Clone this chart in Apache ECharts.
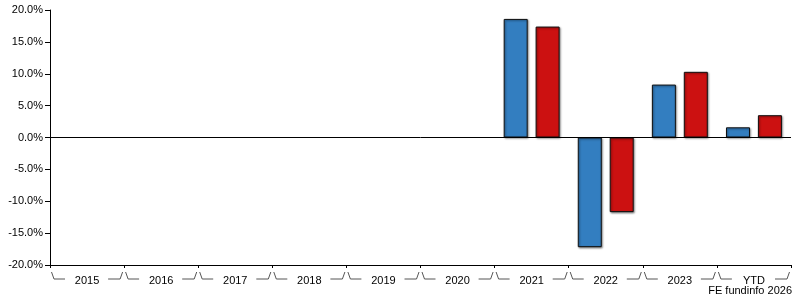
<!DOCTYPE html>
<html>
<head>
<meta charset="utf-8">
<script src="https://cdn.jsdelivr.net/npm/echarts@6/dist/echarts.min.js"></script>
<style>html,body{margin:0;padding:0;background:#fff}#c{width:795px;height:300px}</style>
</head>
<body>
<div id="c"></div>
<script>
var categories = ['2015','2016','2017','2018','2019','2020','2021','2022','2023','YTD'];
var fundValues = [null,null,null,null,null,null,18.6,-17.2,8.3,1.6];
var sectorValues = [null,null,null,null,null,null,17.4,-11.7,10.3,3.5];
var yTicks = {min:-20, max:20, interval:5};
var footer = 'FE fundinfo 2026';

var FONT = '"Liberation Sans", Arial, sans-serif';
var chart = echarts.init(document.getElementById('c'), null, {renderer:'canvas'});

var barStyle = function(color){
  return {color: color, borderColor: '#111', borderWidth: 1,
    shadowColor: 'rgba(0,0,0,0.45)', shadowBlur: 2, shadowOffsetX: 1, shadowOffsetY: 1};
};

chart.setOption({
  animation: false,
  grid: {left: 50, right: 4, top: 10, bottom: 35},
  xAxis: {
    type: 'category', data: categories,
    axisLine: {onZero: false, lineStyle: {color: '#000', width: 1}},
    axisTick: {show: true, length: 3, lineStyle: {color: '#000'}},
    axisLabel: {color: '#000', fontSize: 11, fontFamily: FONT, margin: 10},
    splitLine: {show: false}
  },
  yAxis: {
    type: 'value', min: yTicks.min, max: yTicks.max, interval: yTicks.interval,
    axisLine: {show: true, lineStyle: {color: '#000'}},
    axisTick: {show: true, length: 5, lineStyle: {color: '#000'}},
    axisLabel: {color: '#000', fontSize: 11, fontFamily: FONT, margin: 7,
      formatter: function(v){ return v.toFixed(1) + '%'; }},
    splitLine: {show: false}
  },
  series: [
    {type: 'bar', data: fundValues, barWidth: 24, barGap: '33%', itemStyle: barStyle('#337EC0'),
      markLine: {silent: true, symbol: 'none', label: {show: false},
        lineStyle: {color: '#000', width: 1, type: 'solid'}, data: [{yAxis: 0}]}},
    {type: 'bar', data: sectorValues, barWidth: 24, itemStyle: barStyle('#CC1111')},
    {type: 'custom', clip: false, silent: true,
      data: categories.map(function(c, i){ return [i]; }),
      encode: {x: 0},
      renderItem: function(params, api){
        var idx = api.value(0);
        var p = api.coord([idx, yTicks.min]);
        var w = api.size([1, 0])[0];
        var bL = p[0] - w/2, bR = p[0] + w/2, y = p[1];
        var ls = {stroke: '#555', lineWidth: 1, fill: null};
        return {type: 'group', children: [
          {type: 'polyline', shape: {points: [[bL+1.5, y+7], [bL+4, y+14], [bL+15, y+14]]}, style: ls},
          {type: 'polyline', shape: {points: [[bR-16, y+14], [bR-4, y+14], [bR-1.5, y+7]]}, style: ls}
        ]};
      }
    }
  ],
  graphic: [{type: 'text', right: 3, top: 285,
    style: {text: footer, fill: '#000', fontSize: 11, fontFamily: FONT}}]
});
</script>
</body>
</html>
